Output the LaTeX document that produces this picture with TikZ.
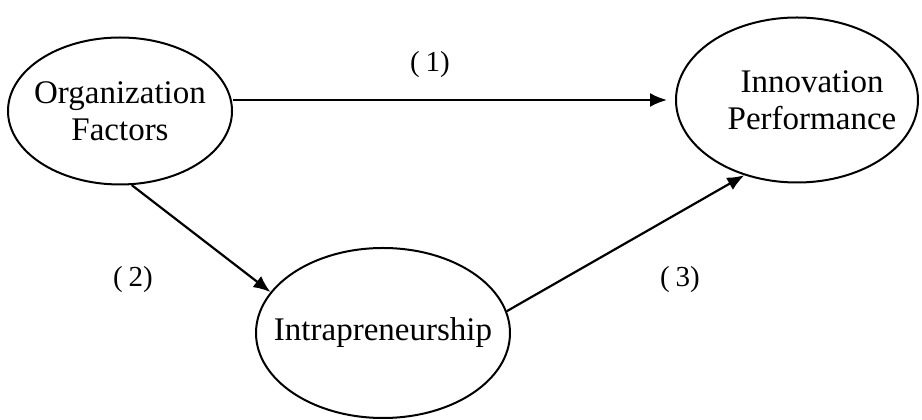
\documentclass[tikz,border=0pt]{standalone}
\usepackage{fontspec}
\setmainfont{Liberation Serif}
\usepackage{tikz}
\usetikzlibrary{
  arrows.meta,
  shapes.geometric,
  positioning,
  calc
}
\tikzset{
  construct/.style={
    draw, ellipse, line width=2pt, inner sep=-30pt, align=center,
    font=\fontsize{33}{37}\selectfont
  },
  effect/.style={-{Latex[length=17pt, width=14pt]}, line width=2.2pt},
  tag/.style={font=\fontsize{29}{30}\selectfont, inner sep=0pt}
}
\begin{document}
\begin{tikzpicture}[x=1pt, y=1pt]
  \useasboundingbox (0,0) rectangle (922,420);
  \node[construct, minimum width=224pt, minimum height=147pt] (org) at (120,309) {Organization\\Factors};
  \node[construct, minimum width=242pt, minimum height=165pt] (innov) at (797,320) {\hspace*{30pt}Innovation\\\hspace*{30pt}Performance};
  \node[construct, minimum width=254pt, minimum height=170pt] (intra) at (383,87) {Intrapreneurship};
  \draw[effect, shorten >=8pt] (org.east |- innov.west) -- (innov.west);
  \draw[effect] (org.-81) -- (intra.160);
  \draw[effect] (intra.10) -- (innov.235);
  \node[tag] (t1) at (430,355) {(\hspace{6pt}1)};
  \node[tag] (t2) at (133,140) {(\hspace{6pt}2)};
  \node[tag] (t3) at (680,140) {(\hspace{6pt}3)};
\end{tikzpicture}
\end{document}
